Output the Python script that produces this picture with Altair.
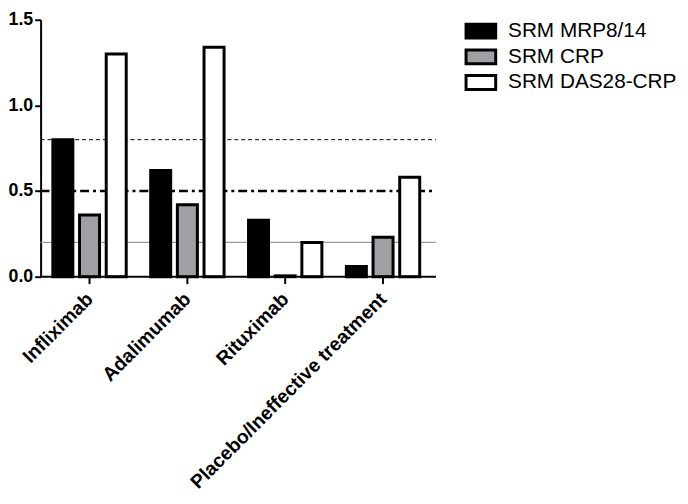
import altair as alt
import pandas as pd

categories = ["Infliximab", "Adalimumab", "Rituximab", "Placebo/Ineffective treatment"]
series = ["SRM MRP8/14", "SRM CRP", "SRM DAS28-CRP"]
mrp = [0.80, 0.62, 0.33, 0.06]
crp = [0.36, 0.42, 0.005, 0.23]
das = [1.30, 1.34, 0.20, 0.58]
ref_values = [0.8, 0.5, 0.2]
colors = ["#000000", "#a0a0a4", "#ffffff"]

rows = []
for i, c in enumerate(categories):
    for s, vals in zip(series, [mrp, crp, das]):
        rows.append({"treatment": c, "series": s, "srm": vals[i]})
df = pd.DataFrame(rows)

FONT = "Liberation Sans"
W, H = 396, 260
XR = 400

x = alt.X("treatment:N", sort=categories, title=None,
          scale=alt.Scale(paddingInner=0.25, paddingOuter=0.125),
          axis=alt.Axis(labelAngle=-45, labelFont=FONT, labelFontSize=19.5,
                        labelFontWeight="bold", labelColor="black",
                        tickColor="black", tickWidth=2, tickSize=7,
                        domain=False, labelPadding=6, labelOffset=-6,
                        labelLimit=0))
y = alt.Y("srm:Q", title=None,
          scale=alt.Scale(domain=[0, 1.5], nice=False),
          axis=alt.Axis(values=[0, 0.5, 1.0, 1.5], format=".1f", grid=False,
                        labelFont=FONT, labelFontSize=18, labelFontWeight="bold",
                        labelColor="black", tickColor="black", tickWidth=2,
                        tickSize=6, domainColor="black", domainWidth=2,
                        labelPadding=2))

bars = alt.Chart(df).mark_bar(stroke="black", strokeWidth=3, strokeJoin="miter").encode(
    x=x,
    xOffset=alt.XOffset("series:N", sort=series,
                        scale=alt.Scale(paddingInner=0.25, paddingOuter=0)),
    y=y,
    fill=alt.Fill("series:N", sort=series, title=None,
                  scale=alt.Scale(domain=series, range=colors),
                  legend=alt.Legend(orient="none", legendX=434, legendY=0,
                                    symbolType="M-1.5,-0.7H1.5V0.7H-1.5Z",
                                    symbolSize=400, symbolStrokeColor="black",
                                    symbolStrokeWidth=3, labelFont=FONT,
                                    labelFontSize=21, labelColor="black",
                                    labelOffset=16, rowPadding=-1,
                                    labelLimit=0)),
)

ref_df = pd.DataFrame({"y": ref_values, "kind": ["a", "b", "c"]})
r1 = alt.Chart(ref_df[ref_df.kind == "a"]).mark_rule(
    color="black", strokeWidth=1, strokeDash=[4, 3]).encode(
    y=alt.Y("y:Q"), x=alt.value(0), x2=alt.value(XR))
r2 = alt.Chart(ref_df[ref_df.kind == "b"]).mark_rule(
    color="black", strokeWidth=2.5, strokeDash=[9, 4, 3, 4]).encode(
    y=alt.Y("y:Q"), x=alt.value(0), x2=alt.value(XR))
r3 = alt.Chart(ref_df[ref_df.kind == "c"]).mark_rule(
    color="#9a9a9a", strokeWidth=1.2).encode(
    y=alt.Y("y:Q"), x=alt.value(0), x2=alt.value(XR))
zero = alt.Chart(pd.DataFrame({"y": [0.0]})).mark_rule(
    color="black", strokeWidth=2).encode(
    y=alt.Y("y:Q"), x=alt.value(0), x2=alt.value(XR))

chart = alt.layer(r1, r2, r3, bars, zero).properties(
    width=W, height=H,
    autosize=alt.AutoSizeParams(type="none"),
    padding={"left": 33, "top": 9, "right": 251, "bottom": 219},
).configure_view(stroke=None)

chart.save("out.html", embed_options={"renderer": "svg", "actions": False})
